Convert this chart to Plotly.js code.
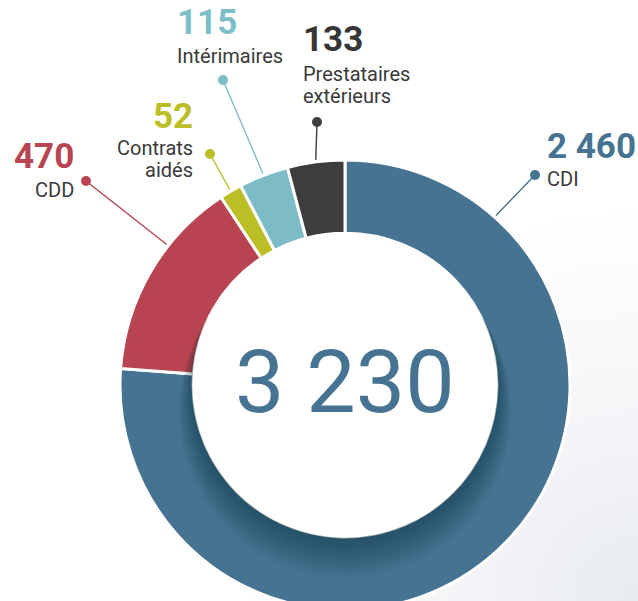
<!DOCTYPE html>
<html>
<head>
<meta charset="utf-8">
<script src="https://cdn.plot.ly/plotly-3.0.1.min.js"></script>
<style>
  html, body { margin: 0; padding: 0; overflow: hidden; width: 638px; height: 601px;
    background: radial-gradient(circle at 100% 100%, #e8ebef 0%, #f6f7f9 25%, #ffffff 45%); }
  #chart { width: 638px; height: 620px; }
</style>
</head>
<body>
<div id="chart"></div>
<script>
// ---- data ----
const categories = ['CDI', 'CDD', 'Contrats aidés', 'Intérimaires', 'Prestataires extérieurs'];
const values = [2460, 470, 52, 115, 133];
const labelLines = [['CDI'], ['CDD'], ['Contrats', 'aidés'], ['Intérimaires'], ['Prestataires', 'extérieurs']];
const colors = ['#467392', '#b84452', '#bbbe24', '#7cbcc6', '#3d3d3d'];
const numberColors = ['#467392', '#b84452', '#bbbe24', '#7cbfc8', '#363636'];

// ---- layout / geometry ----
const W = 638, H = 620;
const cx = 345, cy = 385, R = 225;
const holeFrac = 0.675;
const textColor = '#3a3a3a';
const FONT = 'Roboto, "Open Sans", sans-serif';

// label placement (pixels) and where along its slice each leader line touches
const labelLayout = [
  { x: 546, anchor: 'left',  numY: 146, lineY: [179],      dot: [535, 175], at: 0.152 },
  { x: 75,  anchor: 'right', numY: 157, lineY: [190],      dot: [86, 181],  at: 0.65 },
  { x: 194, anchor: 'right', numY: 116, lineY: [148, 170], dot: [210, 154], at: 0.5 },
  { x: 176, anchor: 'left',  numY: 22,  lineY: [56],       dot: [223, 80],  at: 0.5 },
  { x: 302, anchor: 'left',  numY: 40,  lineY: [74, 96],   dot: [317, 122], at: 0.5 }
];

function fmt(n) { return String(n).replace(/\B(?=(\d{3})+(?!\d))/g, ' '); }
const px = x => x / W;
const py = y => 1 - y / H;

const total = values.reduce((a, b) => a + b, 0);

const trace = {
  type: 'pie',
  labels: categories,
  values: values,
  hole: holeFrac,
  sort: false,
  direction: 'clockwise',
  rotation: 0,
  textinfo: 'none',
  hoverinfo: 'none',
  marker: { colors: colors, line: { color: '#ffffff', width: 3 } },
  domain: { x: [px(cx - R), px(cx + R)], y: [py(cy + R), py(cy - R)] },
  showlegend: false
};

const annotations = [];
const shapes = [];
const rh = R * holeFrac;

// soft shadow cast by the hole onto the ring (below the centre disc)
const N = 18;
for (let i = N; i >= 1; i--) {
  const r = rh + i * 0.8, dy = i * 1.5;
  shapes.push({ type: 'circle', xref: 'paper', yref: 'paper', layer: 'above',
    x0: px(cx - r), x1: px(cx + r), y0: py(cy + dy + r), y1: py(cy + dy - r),
    fillcolor: 'rgba(20,30,45,0.022)', line: { width: 0 } });
}
// white centre disc
const rw = rh + 0.8;
shapes.push({ type: 'circle', xref: 'paper', yref: 'paper', layer: 'above',
  x0: px(cx - rw), x1: px(cx + rw), y0: py(cy + rw), y1: py(cy - rw),
  fillcolor: '#ffffff', line: { width: 0 } });

let cum = 0;
values.forEach((v, i) => {
  const L = labelLayout[i];
  const a0 = cum / total * 2 * Math.PI;
  cum += v;
  const a1 = cum / total * 2 * Math.PI;
  const th = a0 + (a1 - a0) * L.at;
  const ex = cx + (R + 2) * Math.sin(th);
  const ey = cy - (R + 2) * Math.cos(th);
  shapes.push({ type: 'line', xref: 'paper', yref: 'paper',
    x0: px(L.dot[0]), y0: py(L.dot[1]), x1: px(ex), y1: py(ey),
    line: { color: colors[i], width: 1.4 } });
  const dr = 5;
  shapes.push({ type: 'circle', xref: 'paper', yref: 'paper',
    x0: px(L.dot[0] - dr), x1: px(L.dot[0] + dr), y0: py(L.dot[1] + dr), y1: py(L.dot[1] - dr),
    fillcolor: colors[i], line: { width: 0 } });

  annotations.push({ xref: 'paper', yref: 'paper', x: px(L.x), y: py(L.numY),
    xanchor: L.anchor, yanchor: 'middle', showarrow: false, borderpad: 0,
    text: fmt(v), font: { family: FONT, size: 35, weight: 700, color: numberColors[i] } });
  labelLines[i].forEach((t, k) => {
    annotations.push({ xref: 'paper', yref: 'paper', x: px(L.x), y: py(L.lineY[k]),
      xanchor: L.anchor, yanchor: 'middle', showarrow: false, borderpad: 0,
      text: t, font: { family: FONT, size: 20, color: textColor } });
  });
});

annotations.push({ xref: 'paper', yref: 'paper', x: px(cx), y: py(381),
  xanchor: 'center', yanchor: 'middle', showarrow: false, borderpad: 0,
  text: fmt(total), font: { family: FONT, size: 88, color: '#467392' } });

const layout = {
  width: W, height: H,
  margin: { l: 0, r: 0, t: 0, b: 0 },
  paper_bgcolor: 'rgba(0,0,0,0)',
  plot_bgcolor: 'rgba(0,0,0,0)',
  showlegend: false,
  annotations: annotations,
  shapes: shapes
};

Plotly.newPlot('chart', [trace], layout, { displayModeBar: false, staticPlot: true });
</script>
</body>
</html>
